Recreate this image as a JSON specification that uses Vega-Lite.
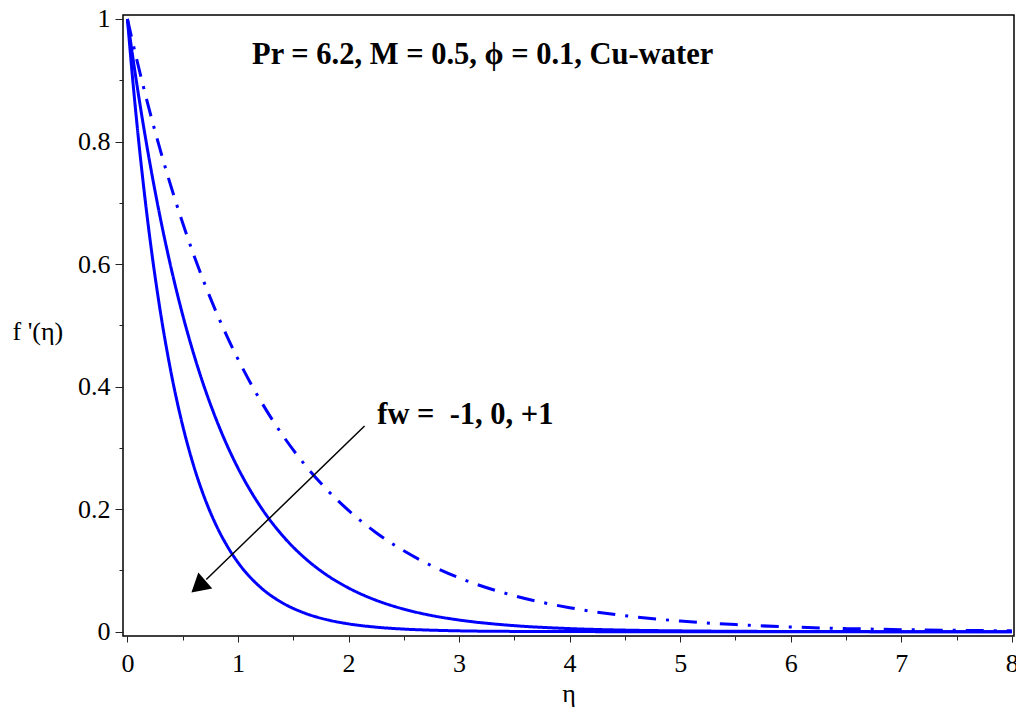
{
  "$schema": "https://vega.github.io/schema/vega-lite/v6.json",
  "autosize": "none",
  "width": 891,
  "height": 621,
  "padding": {"left": 123, "top": 15, "right": 2, "bottom": 77},
  "background": "white",
  "config": {
    "view": {"stroke": "black", "strokeWidth": 1.5},
    "font": "Liberation Serif"
  },
  "resolve": {"axis": {"x": "independent", "y": "independent"}},
  "datasets": {
    "curves": [
      {"eta": 0, "f": 1, "fw": "-1"}, {"eta": 0.05, "f": 0.9603, "fw": "-1"}, {"eta": 0.1, "f": 0.9222, "fw": "-1"}, {"eta": 0.15, "f": 0.8856, "fw": "-1"}, {"eta": 0.2, "f": 0.8504, "fw": "-1"}, {"eta": 0.3, "f": 0.7843, "fw": "-1"}, {"eta": 0.4, "f": 0.7233, "fw": "-1"}, {"eta": 0.5, "f": 0.667, "fw": "-1"}, {"eta": 0.6, "f": 0.6151, "fw": "-1"}, {"eta": 0.7, "f": 0.5672, "fw": "-1"}, {"eta": 0.8, "f": 0.5231, "fw": "-1"}, {"eta": 0.9, "f": 0.4824, "fw": "-1"}, {"eta": 1.0, "f": 0.4449, "fw": "-1"}, {"eta": 1.2, "f": 0.3784, "fw": "-1"}, {"eta": 1.4, "f": 0.3217, "fw": "-1"}, {"eta": 1.6, "f": 0.2736, "fw": "-1"}, {"eta": 1.8, "f": 0.2327, "fw": "-1"}, {"eta": 2.0, "f": 0.1979, "fw": "-1"}, {"eta": 2.25, "f": 0.1616, "fw": "-1"}, {"eta": 2.5, "f": 0.132, "fw": "-1"}, {"eta": 2.75, "f": 0.1078, "fw": "-1"}, {"eta": 3.0, "f": 0.088, "fw": "-1"}, {"eta": 3.5, "f": 0.0587, "fw": "-1"}, {"eta": 4.0, "f": 0.0392, "fw": "-1"}, {"eta": 4.5, "f": 0.0261, "fw": "-1"}, {"eta": 5.0, "f": 0.0174, "fw": "-1"}, {"eta": 5.5, "f": 0.0116, "fw": "-1"}, {"eta": 6.0, "f": 0.0077, "fw": "-1"}, {"eta": 6.5, "f": 0.0052, "fw": "-1"}, {"eta": 7.0, "f": 0.0034, "fw": "-1"}, {"eta": 7.5, "f": 0.0023, "fw": "-1"}, {"eta": 8.0, "f": 0.0015, "fw": "-1"},
      {"eta": 0, "f": 1, "fw": "0"}, {"eta": 0.05, "f": 0.9361, "fw": "0"}, {"eta": 0.1, "f": 0.8763, "fw": "0"}, {"eta": 0.15, "f": 0.8204, "fw": "0"}, {"eta": 0.2, "f": 0.768, "fw": "0"}, {"eta": 0.3, "f": 0.673, "fw": "0"}, {"eta": 0.4, "f": 0.5898, "fw": "0"}, {"eta": 0.5, "f": 0.5169, "fw": "0"}, {"eta": 0.6, "f": 0.453, "fw": "0"}, {"eta": 0.7, "f": 0.3969, "fw": "0"}, {"eta": 0.8, "f": 0.3479, "fw": "0"}, {"eta": 0.9, "f": 0.3048, "fw": "0"}, {"eta": 1.0, "f": 0.2671, "fw": "0"}, {"eta": 1.2, "f": 0.2051, "fw": "0"}, {"eta": 1.4, "f": 0.1575, "fw": "0"}, {"eta": 1.6, "f": 0.121, "fw": "0"}, {"eta": 1.8, "f": 0.0929, "fw": "0"}, {"eta": 2.0, "f": 0.0714, "fw": "0"}, {"eta": 2.25, "f": 0.0513, "fw": "0"}, {"eta": 2.5, "f": 0.0369, "fw": "0"}, {"eta": 2.75, "f": 0.0265, "fw": "0"}, {"eta": 3.0, "f": 0.0191, "fw": "0"}, {"eta": 3.5, "f": 0.0099, "fw": "0"}, {"eta": 4.0, "f": 0.0051, "fw": "0"}, {"eta": 4.5, "f": 0.0026, "fw": "0"}, {"eta": 5.0, "f": 0.0014, "fw": "0"}, {"eta": 5.5, "f": 0.0007, "fw": "0"}, {"eta": 6.0, "f": 0.0004, "fw": "0"}, {"eta": 6.5, "f": 0.0002, "fw": "0"}, {"eta": 7.0, "f": 0.0001, "fw": "0"}, {"eta": 7.5, "f": 0.0001, "fw": "0"}, {"eta": 8.0, "f": 0.0, "fw": "0"},
      {"eta": 0, "f": 1, "fw": "1"}, {"eta": 0.05, "f": 0.8967, "fw": "1"}, {"eta": 0.1, "f": 0.8041, "fw": "1"}, {"eta": 0.15, "f": 0.7211, "fw": "1"}, {"eta": 0.2, "f": 0.6466, "fw": "1"}, {"eta": 0.3, "f": 0.52, "fw": "1"}, {"eta": 0.4, "f": 0.4181, "fw": "1"}, {"eta": 0.5, "f": 0.3362, "fw": "1"}, {"eta": 0.6, "f": 0.2704, "fw": "1"}, {"eta": 0.7, "f": 0.2174, "fw": "1"}, {"eta": 0.8, "f": 0.1748, "fw": "1"}, {"eta": 0.9, "f": 0.1406, "fw": "1"}, {"eta": 1.0, "f": 0.113, "fw": "1"}, {"eta": 1.2, "f": 0.0731, "fw": "1"}, {"eta": 1.4, "f": 0.0473, "fw": "1"}, {"eta": 1.6, "f": 0.0306, "fw": "1"}, {"eta": 1.8, "f": 0.0198, "fw": "1"}, {"eta": 2.0, "f": 0.0128, "fw": "1"}, {"eta": 2.25, "f": 0.0074, "fw": "1"}, {"eta": 2.5, "f": 0.0043, "fw": "1"}, {"eta": 2.75, "f": 0.0025, "fw": "1"}, {"eta": 3.0, "f": 0.0014, "fw": "1"}, {"eta": 3.5, "f": 0.0005, "fw": "1"}, {"eta": 4.0, "f": 0.0002, "fw": "1"}, {"eta": 4.5, "f": 0.0001, "fw": "1"}, {"eta": 5.0, "f": 0.0, "fw": "1"}, {"eta": 6.0, "f": 0.0, "fw": "1"}, {"eta": 7.0, "f": 0.0, "fw": "1"}, {"eta": 8.0, "f": 0.0, "fw": "1"}
    ],
    "arrow": [{"x1": 2.145, "y1": 0.3358, "x2": 0.713, "y2": 0.0851}],
    "head": [{"x": 0.6416, "y": 0.0738}],
    "labels": [
      {"x": 1.128, "y": 0.9265, "text": "Pr = 6.2, M = 0.5, ϕ = 0.1, Cu-water"},
      {"x": 2.26, "y": 0.3397, "text": "fw = \u00a0-1, 0, +1"}
    ]
  },
  "layer": [
    {
      "data": {"name": "curves"},
      "mark": {"type": "line", "color": "#0000ff", "strokeWidth": 3, "interpolate": "monotone", "clip": true},
      "encoding": {
        "x": {
          "field": "eta", "type": "quantitative",
          "scale": {"domain": [-0.04, 8.02], "nice": false, "zero": false},
          "axis": {"orient": "bottom", "title": "η", "values": [0, 1, 2, 3, 4, 5, 6, 7, 8], "domain": false, "grid": false, "tickColor": "#222", "tickWidth": 1, "tickSize": 6, "labelPadding": 8, "labelFont": "Times New Roman, Liberation Serif, serif", "labelFontSize": 26, "labelColor": "black", "titleFont": "Times New Roman, Liberation Serif, serif", "titleFontSize": 26, "titleFontWeight": "normal", "titleColor": "black", "titleY": 65, "titleBaseline": "alphabetic", "format": "d"}
        },
        "y": {
          "field": "f", "type": "quantitative",
          "scale": {"domain": [-0.007, 1.0065], "nice": false, "zero": false},
          "axis": {"orient": "left", "title": "f '(η)", "values": [0, 0.2, 0.4, 0.6, 0.8, 1], "domain": false, "grid": false, "tickColor": "#222", "tickWidth": 1, "tickSize": 8, "labelPadding": 5, "labelFont": "Times New Roman, Liberation Serif, serif", "labelFontSize": 26, "labelColor": "black", "titleFont": "Times New Roman, Liberation Serif, serif", "titleFontSize": 26, "titleFontWeight": "normal", "titleColor": "black", "titleAngle": 0, "titleAlign": "left", "titleBaseline": "middle", "titleX": -111, "titleY": 316, "labelExpr": "datum.value == 0 ? '0' : datum.value == 1 ? '1' : format(datum.value, '.1f')"}
        },
        "detail": {"field": "fw"},
        "strokeDash": {
          "field": "fw", "type": "nominal",
          "scale": {"domain": ["-1", "0", "1"], "range": [[18, 10, 3, 10], [1, 0], [1, 0]]},
          "legend": null
        }
      }
    },
    {
      "data": {"name": "arrow"},
      "mark": {"type": "rule", "color": "black", "strokeWidth": 1.5},
      "encoding": {
        "x": {"field": "x1", "type": "quantitative", "axis": {"orient": "bottom", "title": null, "values": [0.5, 1.5, 2.5, 3.5, 4.5, 5.5, 6.5, 7.5], "labels": false, "domain": false, "grid": false, "tickColor": "#222", "tickWidth": 1, "tickSize": 4}},
        "y": {"field": "y1", "type": "quantitative", "axis": {"orient": "left", "title": null, "values": [0.1, 0.3, 0.5, 0.7, 0.9], "labels": false, "domain": false, "grid": false, "tickColor": "#222", "tickWidth": 1, "tickSize": 4}},
        "x2": {"field": "x2"},
        "y2": {"field": "y2"}
      }
    },
    {
      "data": {"name": "head"},
      "mark": {"type": "point", "shape": "triangle-up", "filled": true, "color": "black", "opacity": 1, "size": 450, "angle": 229},
      "encoding": {
        "x": {"field": "x", "type": "quantitative", "axis": null},
        "y": {"field": "y", "type": "quantitative", "axis": null}
      }
    },
    {
      "data": {"name": "labels"},
      "mark": {"type": "text", "font": "Liberation Serif", "fontWeight": "bold", "fontSize": 30.5, "align": "left", "baseline": "alphabetic", "color": "black"},
      "encoding": {
        "x": {"field": "x", "type": "quantitative", "axis": null},
        "y": {"field": "y", "type": "quantitative", "axis": null},
        "text": {"field": "text"}
      }
    }
  ]
}
